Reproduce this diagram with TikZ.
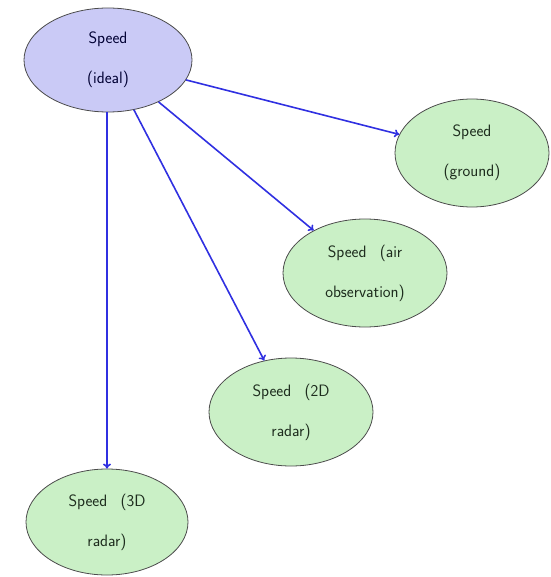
\documentclass[tikz,border=0pt]{standalone}
\usetikzlibrary{shapes.geometric,arrows.meta}
\definecolor{idealfill}{RGB}{202,202,246}
\definecolor{leaffill}{RGB}{202,240,198}
\definecolor{edgeblue}{RGB}{48,48,225}
\definecolor{txt}{RGB}{30,45,30}
\newcommand{\btext}[1]{\parbox{90pt}{\centering\spaceskip=0.8em plus 0.2em\relax\hyphenpenalty=10000\relax #1}}
\begin{document}
\begin{tikzpicture}[x=1pt,y=-1pt,
  bubble/.style={ellipse,draw=black!70,line width=0.8pt,inner sep=0pt,
    minimum width=164pt,minimum height=108pt,
    font=\sffamily\fontsize{16.5}{40}\selectfont,text=txt},
  rootbubble/.style={bubble,fill=idealfill,text=black!80!blue},
  leafbubble/.style={bubble,fill=leaffill},
  link/.style={draw=edgeblue,line width=1.6pt,-{To[length=5pt,width=8pt]}}]
\useasboundingbox (0,0) rectangle (550,577);
\node[rootbubble,minimum width=168pt,minimum height=104pt] (ideal) at (108,60) {\btext{Speed (ideal)}};
\node[leafbubble,minimum width=154pt] (ground) at (472,153) {\btext{Speed (ground)}};
\node[leafbubble] (air) at (365,273) {\btext{Speed (air observation)}};
\node[leafbubble] (r2d) at (291,412) {\btext{Speed (2D radar)}};
\node[leafbubble,minimum width=162pt,minimum height=106pt] (r3d) at (107,522) {\btext{Speed (3D radar)}};
\draw[link] (ideal) -- (ground);
\draw[link] (ideal) -- (air);
\draw[link] (ideal) -- (r2d);
\draw[link] (ideal.south -| r3d) -- (r3d);
\end{tikzpicture}
\end{document}
